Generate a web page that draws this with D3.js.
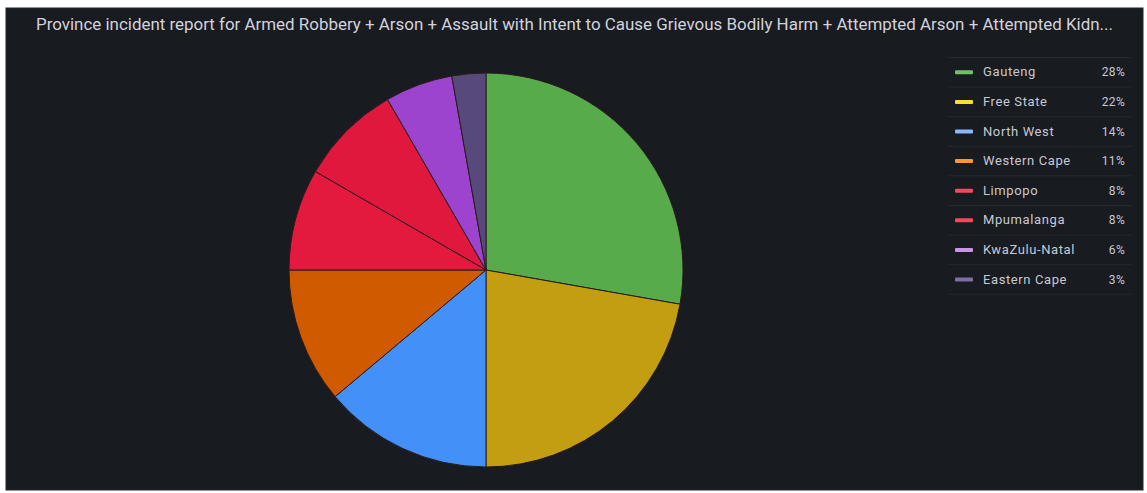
<!DOCTYPE html>
<html>
<head>
<meta charset="utf-8">
<script src="https://cdn.jsdelivr.net/npm/d3@7"></script>
<style>
  body { margin: 0; background: #fff; }
  svg { display: block; font-family: Roboto, "Noto Sans", sans-serif; }
</style>
</head>
<body>
<svg id="chart"></svg>
<script>
const PROVINCES = ["Gauteng", "Free State", "North West", "Western Cape", "Limpopo", "Mpumalanga", "KwaZulu-Natal", "Eastern Cape"];
const INCIDENTS = [10, 8, 5, 4, 3, 3, 2, 1];
const SLICE_COLORS = ["#58ab4a", "#c29e10", "#4290f8", "#cf5a00", "#e4193e", "#e0183e", "#9d44cf", "#574a7a"];
const LEGEND_COLORS = ["#73bf69", "#fade2a", "#8ab8ff", "#ff9830", "#f2495c", "#f2495c", "#ca95e5", "#7e6ea5"];
const TITLE = "Province incident report for Armed Robbery + Arson + Assault with Intent to Cause Grievous Bodily Harm + Attempted Arson + Attempted Kidn...";

const WIDTH = 1147, HEIGHT = 493;
const PANEL = {x: 6, y: 8, w: 1137, h: 482};
const CENTER = {x: 486, y: 270};
const RADIUS = 197;

const svg = d3.select("#chart").attr("width", WIDTH).attr("height", HEIGHT);

svg.append("rect")
  .attr("x", PANEL.x).attr("y", PANEL.y)
  .attr("width", PANEL.w).attr("height", PANEL.h)
  .attr("fill", "#181b1f")
  .attr("stroke", "#24272e");

// title, stretched to the width it takes in the panel header
svg.append("text")
  .attr("x", 36)
  .attr("y", 30)
  .attr("fill", "#d2d2de")
  .attr("font-size", 16)
  .attr("textLength", 1077)
  .attr("lengthAdjust", "spacingAndGlyphs")
  .text(TITLE);

const data = PROVINCES.map((name, i) => ({name, value: INCIDENTS[i], i}));
const total = d3.sum(INCIDENTS);

const color = d3.scaleOrdinal().domain(PROVINCES).range(SLICE_COLORS);
const legendColor = d3.scaleOrdinal().domain(PROVINCES).range(LEGEND_COLORS);

const defs = svg.append("defs");
data.forEach(d => {
  const g = defs.append("radialGradient")
    .attr("id", "grad" + d.i)
    .attr("gradientUnits", "userSpaceOnUse")
    .attr("cx", CENTER.x).attr("cy", CENTER.y).attr("r", RADIUS);
  g.append("stop").attr("offset", "0%").attr("stop-color", d3.color(color(d.name)).darker(0.5));
  g.append("stop").attr("offset", "100%").attr("stop-color", color(d.name));
});

const pie = d3.pie().value(d => d.value).sort(null);
const arc = d3.arc().innerRadius(0).outerRadius(RADIUS);

svg.append("g")
  .attr("transform", `translate(${CENTER.x},${CENTER.y})`)
  .selectAll("path")
  .data(pie(data))
  .enter()
  .append("path")
  .attr("d", arc)
  .attr("fill", d => `url(#grad${d.data.i})`)
  .attr("stroke", "#2a1a1e")
  .attr("stroke-width", 1)
  .attr("stroke-linejoin", "round");

// legend table
const LEG = {x: 948, right: 1131, top: 57.5, row: 29.6};
const legend = svg.append("g");

legend.selectAll(".sep")
  .data(d3.range(data.length + 1))
  .enter()
  .append("line")
  .attr("x1", LEG.x).attr("x2", LEG.right)
  .attr("y1", i => LEG.top + i * LEG.row)
  .attr("y2", i => LEG.top + i * LEG.row)
  .attr("stroke", "#262a30");

const rows = legend.selectAll(".row")
  .data(data)
  .enter()
  .append("g")
  .attr("transform", d => `translate(0, ${LEG.top + (d.i + 0.5) * LEG.row})`);

rows.append("rect")
  .attr("x", 955).attr("y", -2)
  .attr("width", 18).attr("height", 4)
  .attr("rx", 1)
  .attr("fill", d => legendColor(d.name));

rows.append("text")
  .attr("x", 983).attr("y", 4)
  .attr("fill", "#c8c8d4")
  .attr("font-size", 13)
  .attr("letter-spacing", 0.6)
  .text(d => d.name);

rows.append("text")
  .attr("x", 1125).attr("y", 4)
  .attr("text-anchor", "end")
  .attr("fill", "#c8c8d4")
  .attr("font-size", 12)
  .attr("letter-spacing", 0.3)
  .text(d => Math.round(d.value / total * 100) + "%");
</script>
</body>
</html>
